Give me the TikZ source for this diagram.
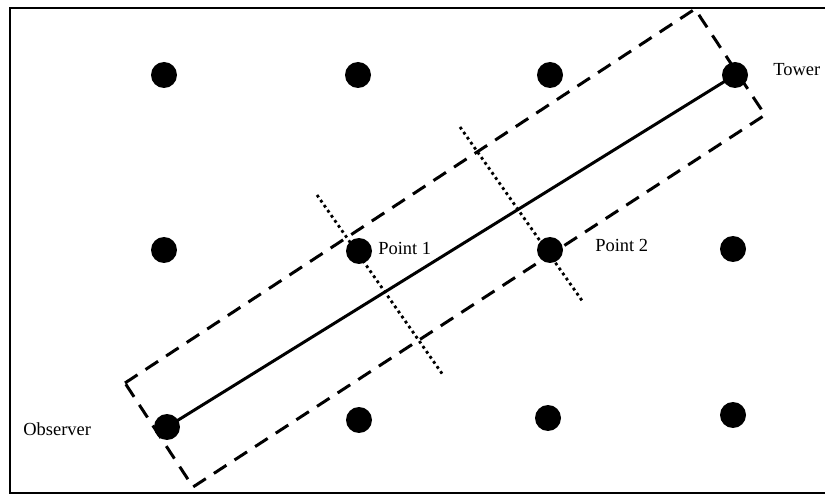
\documentclass[tikz,border=0pt]{standalone}
\usepackage{fontspec}
\setmainfont{Liberation Serif}
\usetikzlibrary{positioning}

\begin{document}
\begin{tikzpicture}[
  x=0.02cm, y=-0.02cm,
  font=\fontsize{10.5}{12}\selectfont,
  site/.style={circle, fill=black, minimum size=0.52cm, inner sep=0pt},
  lbl/.style={anchor=west, inner sep=0pt},
  sight/.style={line width=1.7pt},
  strip/.style={line width=1.7pt, dash pattern=on 8.5pt off 5.5pt},
  cut/.style={line width=1.6pt, dash pattern=on 1.6pt off 1.9pt},
]
\useasboundingbox (0,0) rectangle (825,496);

% Frame (right side cut off)
\draw[line width=1.7pt] (825,8) -- (10,8) -- (10,493) -- (825,493);

% Grid of sites
\foreach \n/\x/\y in {a1/164/75, a2/358/75, a3/550/75,
                      b1/164/250, b4/733/249,
                      c2/359/420, c3/548/418, c4/733/415} {
  \node[site] (\n) at (\x,\y) {};
}
\node[site] (tower) at (735,75) {};
\node[site] (p1) at (359,251) {};
\node[site] (p2) at (550,250) {};
\node[site] (obs) at (167,427) {};

% Labels
\node[lbl] (ltower) at (773,70) {Tower};
\node[lbl] (lp1) at (378,248) {Point 1};
\node[lbl] (lp2) at (595,245) {Point 2};
\node[lbl] (lobs) at (23,429) {Observer};

% Line of sight
\draw[sight] (obs.center) -- (tower.center);

% Strip around the line of sight
\coordinate (s-top) at (695,9);
\coordinate (s-right) at (765,115);
\coordinate (s-bottom) at (193,487);
\coordinate (s-left) at (125,383);
\draw[strip] (s-left) -- (s-top) -- (s-right) -- (s-bottom) -- cycle;

% Cross sections
\coordinate (c1a) at (317,195);
\coordinate (c1b) at (443,375);
\coordinate (c2a) at (460,127);
\coordinate (c2b) at (583,302);
\draw[cut] (c1a) -- (c1b);
\draw[cut] (c2a) -- (c2b);

\end{tikzpicture}
\end{document}
